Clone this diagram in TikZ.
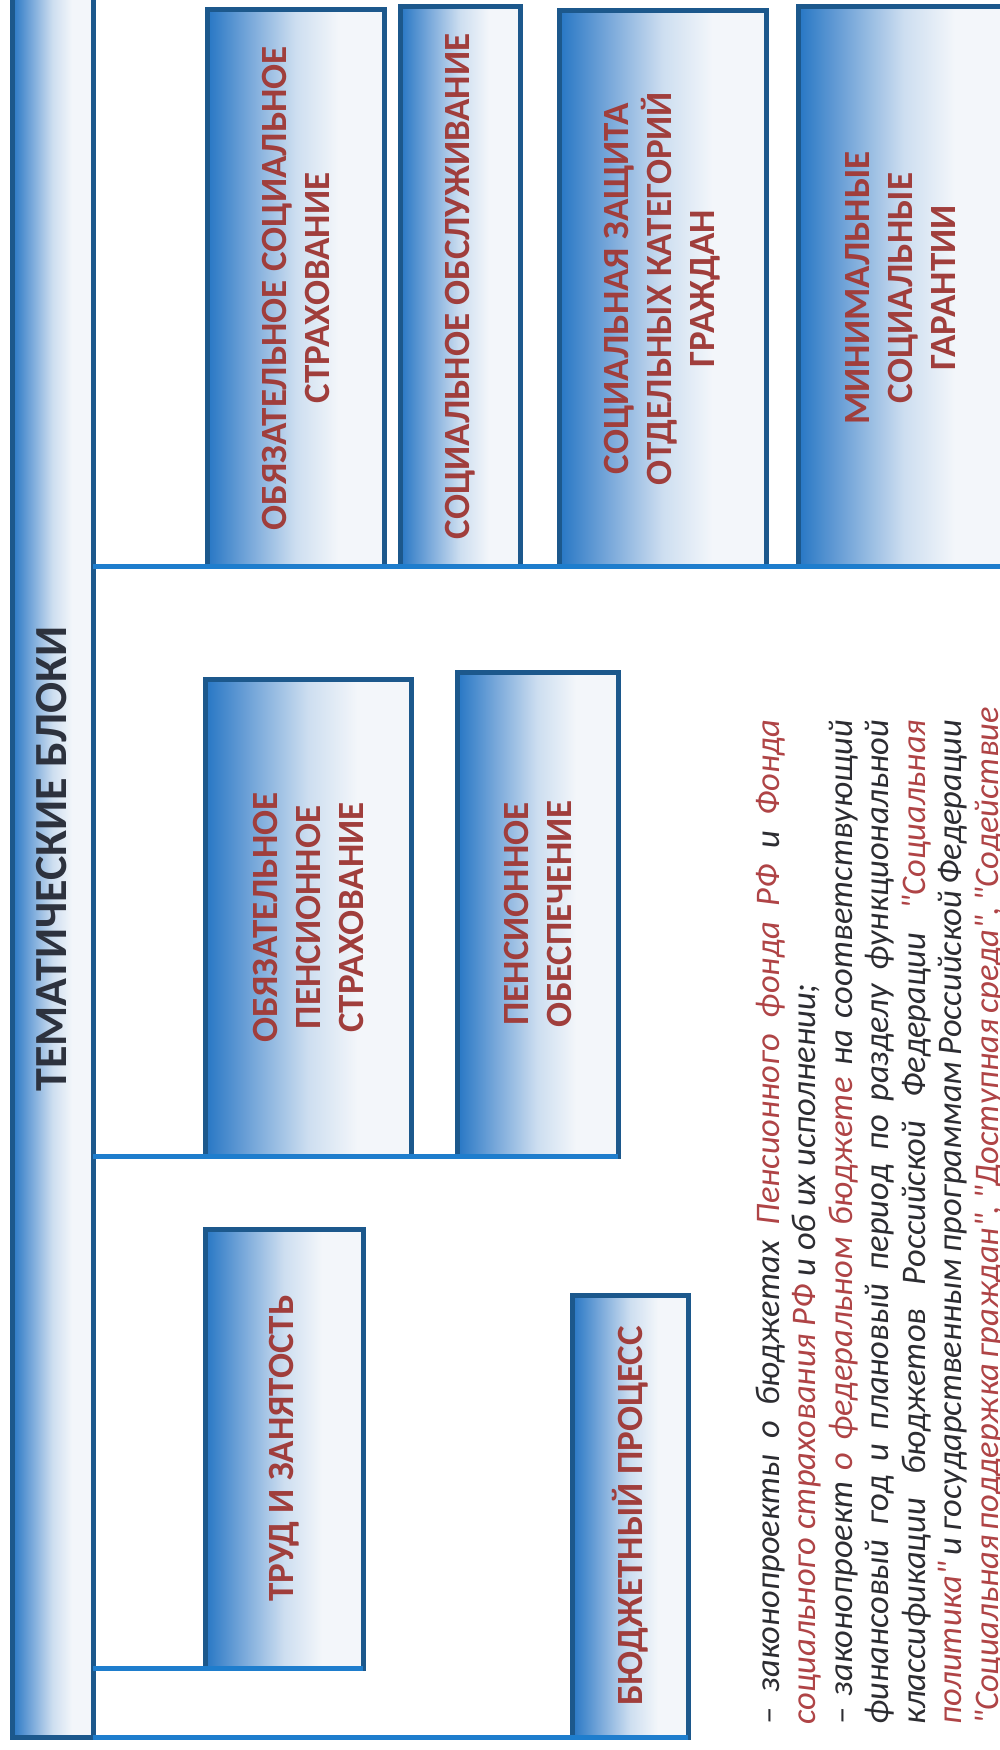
\documentclass[tikz,border=0pt]{standalone}
\usepackage{fontspec}
\setmainfont{Carlito}
\newfontfamily\calfont{Carlito}
\definecolor{bordblue}{RGB}{28,88,140}
\definecolor{connblue}{RGB}{30,125,205}
\definecolor{fadeA}{RGB}{38,118,196}
\definecolor{fadeB}{RGB}{120,168,218}
\definecolor{fadeC}{RGB}{205,222,240}
\definecolor{fadeD}{RGB}{243,246,250}
\definecolor{lblred}{RGB}{160,62,60}
\definecolor{hdrtext}{RGB}{45,50,62}
\definecolor{bodytext}{RGB}{45,45,50}
\definecolor{bodyred}{RGB}{175,68,70}
\pgfdeclarehorizontalshading{boxfade}{100bp}{color(0bp)=(fadeA); color(25bp)=(fadeA); color(37bp)=(fadeB); color(50bp)=(fadeC); color(62bp)=(fadeD); color(100bp)=(fadeD)}
\begin{document}
\begin{tikzpicture}[x=1pt,y=-1pt,
  box/.style={rectangle, draw=bordblue, line width=5pt, shade, shading=boxfade, inner sep=0pt, outer sep=0pt},
  conn/.style={draw=connblue, line width=5pt},
  lbl/.style={rotate=90, align=center, text=lblred, inner sep=0pt, font=\calfont\bfseries\fontsize{37}{43}\selectfont},
  hdrlbl/.style={rotate=90, text=hdrtext, inner sep=0pt, font=\calfont\bfseries\fontsize{46}{52}\selectfont},
  bodyline/.style={rotate=90, anchor=mid west, inner sep=0pt, text=bodytext, font=\calfont\itshape\fontsize{34.5}{38}\selectfont}]
\useasboundingbox (0,0) rectangle (1000,1750);
\clip (0,0) rectangle (1000,1750);
\fill[white] (0,0) rectangle (1000,1750);

% header bar
\node[box, minimum width=81pt, minimum height=1757pt] (hdr) at (52.5,858.5) {};
\node[hdrlbl] (hdrT) at (52,859) {ТЕМАТИЧЕСКИЕ БЛОКИ};

% top row
\node[box, minimum width=177pt, minimum height=556pt] (oss) at (295.5,288) {};
\node[box, minimum width=120pt, minimum height=559pt] (so) at (460,286.5) {};
\node[box, minimum width=207pt, minimum height=555pt] (sz) at (662.5,288.5) {};
\node[box, minimum width=212pt, minimum height=559pt] (msg) at (904,286.5) {};

% middle row
\node[box, minimum width=206pt, minimum height=477pt] (ops) at (308,917.5) {};
\node[box, minimum width=161pt, minimum height=484pt] (po) at (537.5,914) {};

% lower boxes
\node[box, minimum width=158pt, minimum height=439pt] (trud) at (284,1448.5) {};
\node[box, minimum width=116pt, minimum height=442pt] (bp) at (630,1516) {};

% connectors
\draw[conn] (hdr.east |- oss.south) -- (msg.south east);
\draw[conn] (hdr.east |- ops.south) -- (po.south east);
\draw[conn] (hdr.east |- trud.south) -- (trud.south east);
\draw[conn] (hdr.east |- bp.south) -- (bp.south east);

% labels
\node[lbl] (ossT) at (oss.center) {ОБЯЗАТЕЛЬНОЕ СОЦИАЛЬНОЕ\\СТРАХОВАНИЕ};
\node[lbl] (soT) at (so.center) {СОЦИАЛЬНОЕ ОБСЛУЖИВАНИЕ};
\node[lbl] (szT) at (sz.center) {СОЦИАЛЬНАЯ ЗАЩИТА\\ОТДЕЛЬНЫХ КАТЕГОРИЙ\\ГРАЖДАН};
\node[lbl] (msgT) at (900,288) {МИНИМАЛЬНЫЕ\\СОЦИАЛЬНЫЕ\\ГАРАНТИИ};
\node[lbl] (opsT) at (ops.center) {ОБЯЗАТЕЛЬНОЕ\\ПЕНСИОННОЕ\\СТРАХОВАНИЕ};
\node[lbl] (poT) at (po.center) {ПЕНСИОННОЕ\\ОБЕСПЕЧЕНИЕ};
\node[lbl] (trudT) at (trud.center) {ТРУД И ЗАНЯТОСТЬ};
\node[lbl] (bpT) at (bp.center) {БЮДЖЕТНЫЙ ПРОЦЕСС};

% body text
\node[bodyline] (l1) at (777,1725) {\makebox[1005pt][s]{– законопроекты о бюджетах \textcolor{bodyred}{Пенсионного фонда РФ} и \textcolor{bodyred}{Фонда}}};
\node[bodyline] (l2) at (813.5,1725) {\textcolor{bodyred}{социального страхования РФ} и об их исполнении;};
\node[bodyline] (l3) at (850,1725) {\makebox[1005pt][s]{– законопроект \textcolor{bodyred}{о федеральном бюджете} на соответствующий}};
\node[bodyline] (l4) at (886.5,1725) {\makebox[1005pt][s]{финансовый год и плановый период по разделу функциональной}};
\node[bodyline] (l5) at (923,1725) {\makebox[1005pt][s]{классификации бюджетов Российской Федерации \textcolor{bodyred}{"Социальная}}};
\node[bodyline] (l6) at (959.5,1725) {\makebox[1005pt][s]{\textcolor{bodyred}{политика"} и государственным программам Российской Федерации}};
\node[bodyline] (l7) at (996,1725) {\makebox[1005pt][s]{\textcolor{bodyred}{"Социальная поддержка граждан", "Доступная среда", "Содействие}}};
\end{tikzpicture}
\end{document}
